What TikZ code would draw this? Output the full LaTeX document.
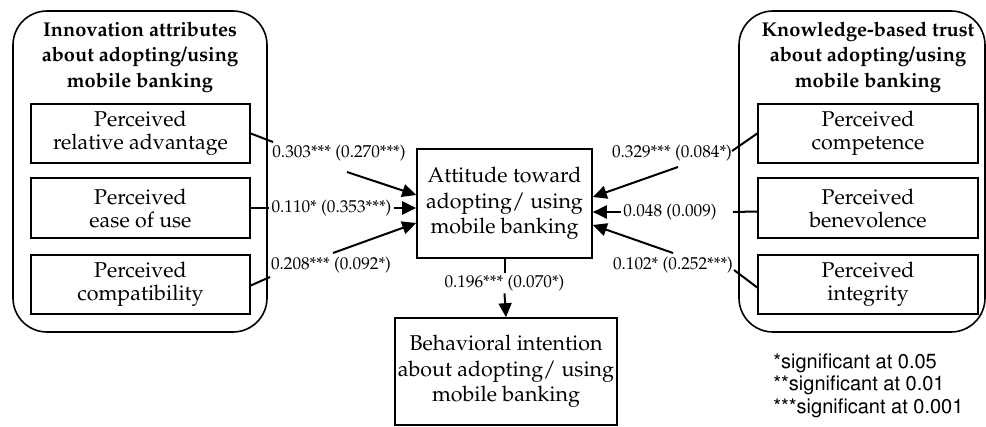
\documentclass[tikz,border=0pt]{standalone}
\usepackage[T1]{fontenc}
\usepackage{mathpazo}
\usetikzlibrary{arrows.meta,calc}
\tikzset{
  grp/.style={draw, line width=0.8pt, rounded corners=17pt, inner sep=0pt},
  inbox/.style={draw, line width=0.8pt, inner sep=0pt, align=center,
    font=\fontsize{10.7}{11.5}\selectfont, minimum height=29.75pt},
  cbox/.style={draw, line width=0.8pt, inner sep=0pt, align=center,
    font=\fontsize{10.7}{12.8}\selectfont},
  ttl/.style={align=center, inner sep=0pt, font=\bfseries\fontsize{10}{12.7}\selectfont},
  elab/.style={font=\fontsize{8.6}{10}\selectfont, inner sep=1pt, text height=6.2pt, text depth=1.8pt},
  ln/.style={line width=1pt},
  arr/.style={line width=1pt, -{Triangle[length=7pt,width=6.5pt]}}
}
\begin{document}
\begin{tikzpicture}[x=0.5pt,y=-0.5pt]
\useasboundingbox (0,0) rectangle (986,427);
% groups
\node (gl) [grp, minimum width=127pt, minimum height=160.5pt] at (140,171.5) {};
\node (gr) [grp, minimum width=123pt, minimum height=160.5pt] at (862,171.5) {};
\node (tl) [ttl] at (140,57) {Innovation attributes\\about adopting/using\\mobile banking};
\node (tr) [ttl] at (868,57) {Knowledge-based trust\\about adopting/using\\mobile banking};
% left boxes
\node (b1) [inbox, minimum width=109.5pt] at (140.5,133.5) {Perceived\\relative advantage};
\node (b2) [inbox, minimum width=109.5pt] at (140.5,208) {Perceived\\ease of use};
\node (b3) [inbox, minimum width=109.5pt] at (140.5,284.5) {Perceived\\compatibility};
% right boxes
\node (r1) [inbox, minimum width=110pt] at (868,133.5) {Perceived\\competence};
\node (r2) [inbox, minimum width=110pt] at (868,208) {Perceived\\benevolence};
\node (r3) [inbox, minimum width=110pt] at (868,284.5) {Perceived\\integrity};
% centre
\node (att) [cbox, minimum width=87.5pt, minimum height=54.5pt] at (504.5,203.5) {Attitude toward\\adopting/ using\\mobile banking};
\node (beh) [cbox, minimum width=111pt, minimum height=53.5pt] at (506,371.5) {Behavioral intention\\about adopting/ using\\mobile banking};
% labels
\node (l1) [elab] at (339,153) {0.303*** (0.270***)};
\node (l2) [elab] at (331.5,208) {0.110* (0.353***)};
\node (l3) [elab] at (331,265) {0.208*** (0.092*)};
\node (l4) [elab] at (672,153) {0.329*** (0.084*)};
\node (l5) [elab] at (670,212) {0.048 (0.009)};
\node (l6) [elab] at (673,265) {0.102* (0.252***)};
\node (l7) [elab] at (504.5,283) {0.196*** (0.070*)};
% free ends
\coordinate (c1a) at (273,142);
\coordinate (c1b) at (347,172);
\coordinate (c3a) at (270,277);
\coordinate (c3b) at (333,253);
\coordinate (c4a) at (732,151);
\coordinate (c4b) at (678,167);
\coordinate (c5a) at (733,212);
\coordinate (c6a) at (734,270);
\coordinate (c6b) at (673,253);
% connectors
\draw[ln] (b1.east) -- (c1a);
\draw[arr] (c1b) -- ([yshift=4.25pt]att.west);
\draw[ln] (b2.east) -- (l2.west);
\draw[arr] (l2.east) -- ([yshift=-2.25pt]att.west);
\draw[ln] ([yshift=-0.5pt]b3.east) -- (c3a);
\draw[arr] (c3b) -- ([yshift=-9.75pt]att.west);
\draw[ln] (r1.west) -- (c4a);
\draw[arr] (c4b) -- ([yshift=3.25pt]att.east);
\draw[ln] ([yshift=-1.75pt]r2.west) -- (c5a);
\draw[arr] (l5.west) -- (att.east |- l5.west);
\draw[ln] ([yshift=-1.5pt]r3.west) -- (c6a);
\draw[arr] (c6b) -- ([yshift=-10.75pt]att.east);
\draw[ln] (att.south) -- (l7.north);
\draw[arr] (l7.south) -- (beh.north);
% legend
\node (legend) [anchor=north west, align=left, inner sep=0pt,
  font=\fontfamily{phv}\fontsize{10}{11.3}\selectfont] at (773,353)
  {*significant at 0.05\\**significant at 0.01\\***significant at 0.001};
\end{tikzpicture}
\end{document}
